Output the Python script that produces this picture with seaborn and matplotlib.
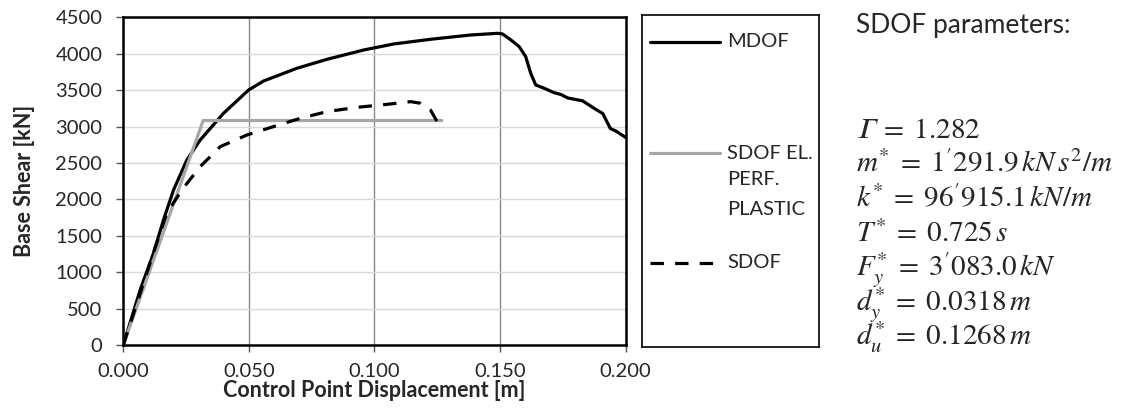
import numpy as np
import pandas as pd
import matplotlib
matplotlib.use("Agg")
import matplotlib.pyplot as plt
import seaborn as sns

# pushover curves
mdof_disp = [0.0, 0.0067, 0.012, 0.016, 0.020, 0.0253, 0.0306, 0.0399, 0.0499, 0.0559,
             0.0691, 0.0811, 0.0957, 0.1077, 0.1223, 0.1383, 0.149, 0.151, 0.1543, 0.1576,
             0.1602, 0.1622, 0.1642, 0.1676, 0.1715, 0.1743, 0.1769, 0.1829, 0.1876,
             0.1909, 0.1939, 0.1962, 0.200]
mdof_shear = [0, 755, 1259, 1717, 2129, 2541, 2815, 3182, 3502, 3626,
              3800, 3923, 4051, 4134, 4198, 4257, 4280, 4271, 4189, 4097,
              3960, 3731, 3571, 3525, 3465, 3439, 3393, 3352, 3247,
              3178, 2973, 2936, 2850]

epp_disp = [0.0, 0.0318, 0.1268]
epp_shear = [0, 3083, 3083]

sdof_disp = [0.0, 0.0093, 0.0146, 0.0173, 0.0233, 0.0306, 0.0386, 0.0492, 0.0598,
             0.0705, 0.0811, 0.0931, 0.1051, 0.1144, 0.1184, 0.1223, 0.1257]
sdof_shear = [0, 984, 1534, 1808, 2129, 2449, 2724, 2884, 2999,
              3113, 3205, 3264, 3305, 3342, 3319, 3227, 3022]

curve_names = ["MDOF", "SDOF EL. PERF. PLASTIC", "SDOF"]
x_ticks = [0.0, 0.05, 0.10, 0.15, 0.20]
y_ticks = [0, 500, 1000, 1500, 2000, 2500, 3000, 3500, 4000, 4500]

params = ["$\U0001D6E4\\;=\\;1.282$",
          r"$m^{*}\;=\;1'291.9\,kN\,s^{2}/m$",
          r"$k^{*}\;=\;96'915.1\,kN/m$",
          r"$T^{*}\;=\;0.725\,s$",
          r"$F_{y}^{*}\;=\;3'083.0\,kN$",
          r"$d_{y}^{*}\;=\;0.0318\,m$",
          r"$d_{u}^{*}\;=\;0.1268\,m$"]

df = pd.concat([
    pd.DataFrame({"disp": mdof_disp, "shear": mdof_shear, "curve": curve_names[0]}),
    pd.DataFrame({"disp": epp_disp, "shear": epp_shear, "curve": curve_names[1]}),
    pd.DataFrame({"disp": sdof_disp, "shear": sdof_shear, "curve": curve_names[2]}),
])

sns.set_style("white")
plt.rcParams["font.family"] = ["Lato", "DejaVu Sans"]
plt.rcParams["mathtext.fontset"] = "stix"

fs = 14.5
lw = 2.3
dash = (4.2, 3.5)

fig = plt.figure(figsize=(11.48, 4.12), dpi=100)
ax = fig.add_axes([0.1074, 0.1626, 0.4376, 0.7954])

colors = {curve_names[0]: "black", curve_names[1]: "#a6a6a6", curve_names[2]: "black"}
dashes = {curve_names[0]: "", curve_names[1]: "", curve_names[2]: dash}
sns.lineplot(data=df, x="disp", y="shear", hue="curve", style="curve",
             palette=colors, dashes=dashes, sort=False, estimator=None,
             linewidth=lw, legend=False, ax=ax, zorder=3)

ax.set_xlim(0, 0.2)
ax.set_ylim(0, 4500)
ax.set_xticks(x_ticks)
ax.set_xticklabels([f"{t:.3f}" for t in x_ticks])
ax.set_yticks(y_ticks)
ax.set_yticklabels([str(t) for t in y_ticks])
ax.tick_params(axis="both", labelsize=fs, length=5, width=1, color="#555555",
               direction="out", left=True, bottom=True)
ax.tick_params(axis="y", pad=10)
ax.tick_params(axis="x", pad=8)
ax.grid(axis="x", color="#888888", linewidth=1)
ax.grid(axis="y", color="#d9d9d9", linewidth=1)
for s in ax.spines.values():
    s.set_color("black")
    s.set_linewidth(1.8)
ax.set_xlabel("Control Point Displacement [m]", fontsize=15.5, fontweight="bold", labelpad=0)
ax.set_ylabel("Base Shear [kN]", fontsize=15.5, fontweight="bold", labelpad=15)

# legend drawn in its own framed box
lg = fig.add_axes([0.559, 0.1578, 0.1544, 0.8058])
lg.set_xlim(0, 1)
lg.set_ylim(0, 1)
lg.set_xticks([])
lg.set_yticks([])
for s in lg.spines.values():
    s.set_color("black")
    s.set_linewidth(1.2)
lg.plot([0.047, 0.442], [0.919, 0.919], color="black", linewidth=lw)
lg.plot([0.047, 0.442], [0.584, 0.584], color="#a6a6a6", linewidth=lw)
lg.plot([0.047, 0.442], [0.253, 0.253], color="black", linewidth=lw, dashes=dash)
lg.text(0.481, 0.919, "MDOF", fontsize=fs, va="center")
lg.text(0.481, 0.584, "SDOF EL.", fontsize=fs, va="center")
lg.text(0.481, 0.503, "PERF.", fontsize=fs, va="center")
lg.text(0.481, 0.413, "PLASTIC", fontsize=fs, va="center")
lg.text(0.481, 0.253, "SDOF", fontsize=fs, va="center")

fig.text(0.7456, 0.938, "SDOF parameters:", fontsize=19, va="center")
for i, p in enumerate(params):
    fig.text(0.7456, 1 - (138.3 + 34.5 * i) / 412, p, fontsize=21, va="baseline")

fig.savefig("out.png", dpi=100)
